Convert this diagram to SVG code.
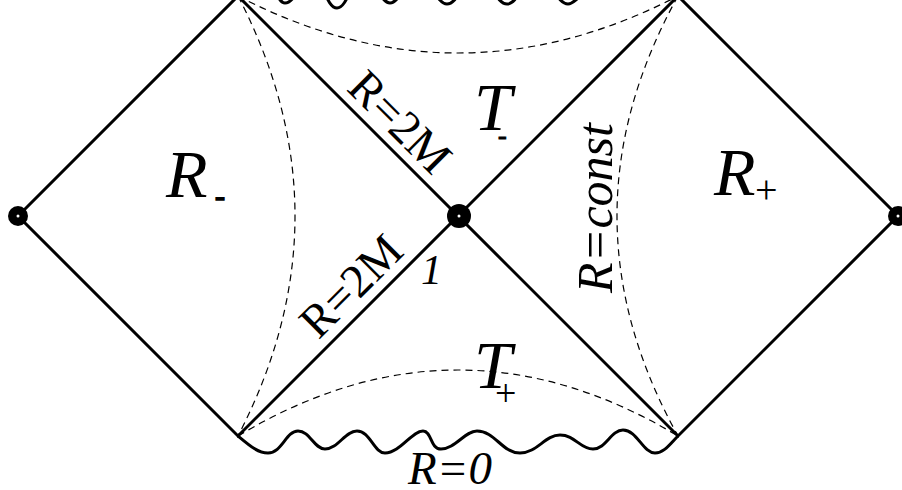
<svg xmlns="http://www.w3.org/2000/svg" width="902" height="490" viewBox="0 0 902 490">
<style>
.solid{fill:none;stroke:#000;stroke-width:3;stroke-linejoin:miter}
.wave{fill:none;stroke:#000;stroke-width:3;stroke-linejoin:round}
.dash{fill:none;stroke:#000;stroke-width:1.2;stroke-dasharray:7 5}
text{font-family:'Liberation Serif','Times New Roman',serif;fill:#000}
.big{font-style:italic;font-size:68px}
.lab{font-size:47px}
.ital{font-style:italic}
.dot{fill:#000}
.hole{fill:#fff}
</style>
<rect width="902" height="490" fill="#fff"/>
<g id="connectors">
  <path class="solid" d="M18,216 L238,-4 L678,436 L898,216 L678,-4 L238,436 Z"/>
  <path class="wave" d="M238,436 C250,446 258,453 268,453 C282,453 286,431 298,431 C310,431 314,449 325,449 C338,449 345,431 357,431 C370,431 374,453 385,453 C400,453 412,431 423,431 C432,431 430,449 441,449 C455,449 465,431 477,431 C495,431 502,453 520,453 C537,453 545,435 560,435 C575,435 580,449 593,449 C606,449 611,430 623,430 C637,430 643,453 655,453 C664,453 670,444 678,436"/>
  <path class="wave" d="M238,-4 C248,-14 254,-24 262,-24 C274,-24 276,3 285,3 C296,3 302,-24 312,-24 C322,-24 326,8 337,8 C348,8 352,-24 363,-24 C374,-24 380,3 390,3 C400,3 408,-24 418,-24 C430,-24 436,4 447,4 C458,4 466,-24 477,-24 C488,-24 496,4 507,4 C518,4 526,-24 537,-24 C548,-24 557,4 568,4 C579,4 590,-24 605,-24 C630,-24 660,-14 678,-4"/>
  <path class="dash" d="M238,-4 Q458,110 678,-4"/>
  <path class="dash" d="M238,436 Q458,304 678,436"/>
  <path class="dash" d="M238,-4 Q352,216 238,436"/>
  <path class="dash" d="M678,-4 Q556,216 678,436"/>
</g>
<g id="node-left">
  <circle class="dot" cx="18" cy="216" r="10"/>
  <circle class="hole" cx="18" cy="216" r="1.5"/>
</g>
<g id="node-center">
  <circle class="dot" cx="459" cy="216" r="12"/>
  <circle class="hole" cx="459" cy="216" r="1.5"/>
</g>
<g id="node-right">
  <circle class="dot" cx="898" cy="216" r="10"/>
  <circle class="hole" cx="898" cy="216" r="1.5"/>
</g>
<g id="label-Rminus">
  <text class="big" x="166" y="197">R</text>
  <text class="ital" x="215" y="206" font-size="30" stroke="#000" stroke-width="1.5">-</text>
</g>
<g id="label-Tminus">
  <text class="big" x="474" y="130">T</text>
  <text class="ital" x="498" y="144" font-size="26" stroke="#000" stroke-width="1">-</text>
</g>
<g id="label-Rplus">
  <text class="big" x="714" y="195">R</text>
  <text x="755" y="203" font-size="40">+</text>
</g>
<g id="label-Tplus">
  <text class="big" x="474" y="388">T</text>
  <text x="495" y="406" font-size="38">+</text>
</g>
<g id="label-R2M-upper">
  <text class="lab" text-anchor="middle" transform="translate(389,133) rotate(45)">R=2M</text>
</g>
<g id="label-R2M-lower">
  <text class="lab" text-anchor="middle" transform="translate(362,297) rotate(-45)">R=2M</text>
</g>
<g id="label-1">
  <text class="ital" x="421" y="284" font-size="42">1</text>
</g>
<g id="label-Rconst">
  <text class="ital" font-size="50" text-anchor="middle" transform="translate(612,208) rotate(-90)">R=const</text>
</g>
<g id="label-R0">
  <text class="ital" x="408" y="484" font-size="47">R=0</text>
</g>
</svg>
